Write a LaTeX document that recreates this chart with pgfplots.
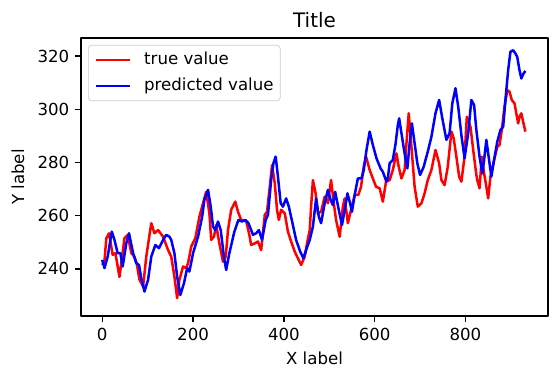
\documentclass[border=0pt]{standalone}
\usepackage{fontspec}
\setmainfont{DejaVu Sans}
\usepackage{pgfplots}
\pgfplotsset{compat=1.18}
\begin{document}
\begin{tikzpicture}
\begin{axis}[
  scale only axis,
  width=280.2bp, height=166.8bp,
  xmin=-46.75, xmax=981.75,
  ymin=222.3, ymax=326.8,
  xtick={0,200,400,600,800},
  ytick={240,260,280,300,320},
  tick align=outside,
  xtick pos=left, ytick pos=left,
  major tick length=3.5bp,
  every tick/.style={black, line width=0.8bp},
  axis line style={line width=0.8bp},
  /pgf/number format/assume math mode=true,
  tick label style={font=\fontsize{10}{12}\selectfont},
  title={Title},
  title style={font=\fontsize{12}{14}\selectfont, at={(axis description cs:0.5,1.029)}, anchor=center},
  xlabel={X label},
  ylabel={Y label},
  label style={font=\fontsize{10}{12}\selectfont},
  xlabel style={at={(axis description cs:0.5,-0.151)}, anchor=center},
  ylabel style={at={(axis description cs:-0.135,0.5)}, anchor=center, rotate=0},
  legend style={at={(axis description cs:0.015,0.975)}, anchor=north west,
    draw=black!20, rounded corners=2bp, fill=white, fill opacity=0.8, text opacity=1,
    font=\fontsize{10}{12}\selectfont, inner xsep=4bp, inner ysep=4bp,
    nodes={inner sep=0pt, text height=7.5bp, text depth=2.2bp, anchor=west},
    row sep=5.9bp,
    /tikz/every odd column/.append style={column sep=8bp}},
  legend cell align=left,
  legend image code/.code={\draw[#1] (0bp,0bp) -- (20bp,0bp);},
  line join=round,
]
\addplot[red, line width=1.5bp] coordinates {
(0,241.5)(5,243)(9,251.5)(15,253.4)(23,245.3)(29,245.9)(38,237)(49,251.5)(56,252.8)(64,246)
(71,244.6)(76,242)(82,236)(90,233.4)(97,244.6)(108,257.2)(115,253.4)(123,254.6)(134,252.1)(145,247.1)
(152,244.6)(159,237.1)(165,229)(170,235.9)(178,240.9)(185,240.3)(189,242.1)(196,248.4)(205,251.5)(214,259.6)
(222,264.7)(229,269)(236,260.9)(240,250.9)(246,252.1)(251,256.5)(258,249.6)(266,242.7)(272,244.6)(277,254.6)
(284,262.2)(293,265.3)(299,261.5)(306,258.4)(317,258)(324,252.8)(328,249)(336,249.6)(343,250.3)(350,247.1)
(358,260.3)(363,261.5)(369,270.9)(374,279)(380,272.2)(385,262.2)(389,258.4)(394,262.2)(402,260.9)(409,254)
(416,250.3)(424,246.5)(431,244)(438,241.5)(446,244.6)(451,249.6)(457,254.6)(460,263.4)(464,273.4)(470,268.4)
(475,260.9)(482,261.5)(490,267.2)(497,264.7)(504,273.4)(510,264.7)(515,258.4)(523,252.1)(530,263.4)(534,266.5)
(541,257.2)(548,262.2)(556,267.8)(564,267.8)(570,270.9)(576,278.5)(581,282.2)(589,277.2)(596,274)(603,270.9)
(611,270.3)(618,265.3)(625,272.8)(633,273.4)(640,277.2)(648,283.4)(653,278.4)(659,274)(666,277.2)(670,287.2)
(675,298.5)(681,285.9)(688,270.9)(695,263.4)(703,264.7)(710,268.4)(717,273.4)(725,277.2)(734,284.7)(742,279.7)
(747,273.4)(754,271.5)(761,278.4)(769,291.6)(774,289.1)(780,282.2)(786,274.7)(791,272.8)(798,282.2)(803,297.2)
(811,293.4)(818,283.4)(824,275.3)(826,273.4)(831,270.3)(836,282.2)(841,275.9)(846,270.9)(850,266.5)(855,274.7)
(863,280.9)(870,285.9)(875,286.6)(880,292.2)(886,301)(892,307.2)(897,306.6)(902,303.5)(908,302.2)(916,294.7)
(919,297.2)(923,298.5)(927,295.3)(932,291.6)
};
\addlegendentry{true value}
\addplot[blue, line width=1.5bp] coordinates {
(0,243.4)(5,240.3)(12,244.6)(21,254)(27,250.9)(34,245.9)(40,245.9)(45,240.9)(53,249.6)(59,253.4)
(68,245.9)(75,242.1)(81,241.5)(86,236.5)(93,231.5)(101,235.9)(108,244.6)(117,249)(125,247.8)(134,250.9)
(141,252.8)(148,252.1)(152,250.9)(159,245.9)(165,237.1)(172,230.2)(180,234.6)(187,240.3)(192,239)(200,245.9)
(211,252.1)(220,259.6)(225,265.9)(233,269.7)(239,263.4)(244,255.9)(249,254.6)(255,257.8)(261,254.6)(268,244.6)
(273,239.6)(280,245.9)(291,254)(300,258.4)(308,257.8)(315,258.4)(322,257.2)(328,254.6)(332,252.8)(339,253.4)
(345,254.6)(352,250.9)(360,258.4)(365,260.3)(372,273.4)(377,279.7)(382,282.2)(387,274.7)(393,264.7)(398,263.4)
(405,266.5)(411,263.4)(419,257.2)(427,250.9)(436,246.5)(443,244)(449,247.1)(457,250.9)(464,255.9)(471,266.5)
(477,259.6)(482,257.2)(490,264.7)(497,269.7)(503,265.9)(508,264)(513,269)(521,262.2)(528,256.5)(534,262.2)
(540,268.4)(545,265.3)(550,261.5)(556,267.8)(563,274)(571,274)(576,277.2)(582,284.7)(589,291.6)(596,286.6)
(604,281.6)(613,277.8)(618,276.5)(626,272.8)(629,274)(633,279.7)(640,280.9)(646,287)(651,294)(654,296.6)
(659,291)(666,283.4)(672,277.8)(677,287.2)(682,294.7)(688,287.2)(694,279.7)(700,275.3)(708,278.4)(717,284.1)
(725,289.7)(734,298.5)(742,303.5)(749,296.6)(758,288.5)(765,291)(771,302.2)(778,307.9)(784,301)(791,290.3)
(798,281.6)(806,291)(813,303.5)(819,301.6)(824,292.2)(831,282.2)(837,275.9)(841,280.9)(846,288.5)(851,282.2)
(857,274.7)(863,280.9)(870,287.8)(877,292.2)(883,293.4)(888,303.5)(894,314.7)(899,321.6)(905,322.2)(910,321)
(914,319.7)(919,314.7)(923,311.6)(928,313.5)(932,314.4)
};
\addlegendentry{predicted value}
\coordinate (ll) at (rel axis cs:0,0);
\coordinate (ur) at (rel axis cs:1,1);
\end{axis}
\pgfresetboundingbox
\path[use as bounding box] ([shift={(-48.6bp,-38.4bp)}]ll) rectangle ([shift={(5.4bp,22.8bp)}]ur);
\end{tikzpicture}
\end{document}
